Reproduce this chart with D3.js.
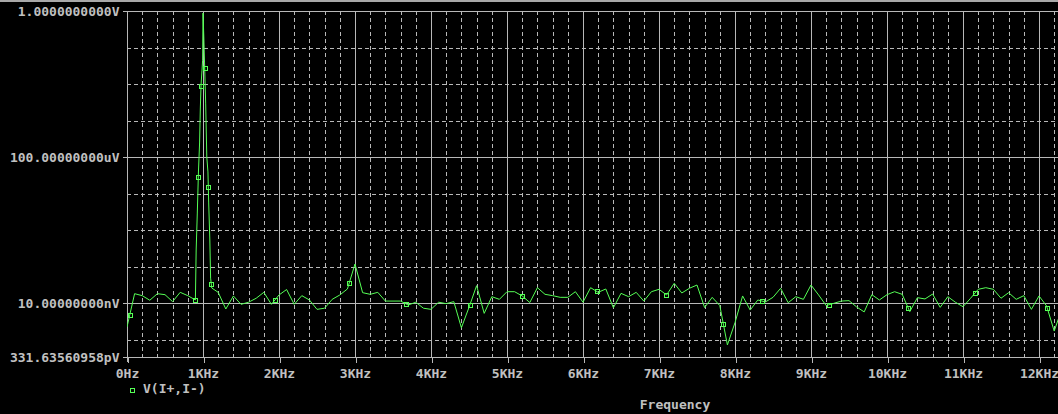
<!DOCTYPE html>
<html>
<head>
<meta charset="utf-8">
<script src="https://cdn.jsdelivr.net/npm/d3@7"></script>
<style>
	html, body { margin: 0; padding: 0; background: #000; overflow: hidden; }
	text { font-family: "DejaVu Sans Mono", "Liberation Mono", monospace; font-weight: bold; font-size: 13px; fill: #c0c0c0; }
</style>
</head>
<body>
<div id="chart"></div>
<script>
//////////////////////////// data /////////////////////////////////////////

// frequency of each FFT sample (KHz)
const freqKHz = [
	0, 0.1, 0.2, 0.3, 0.4, 0.5, 0.6, 0.7, 0.8, 0.9,
	0.91, 0.925, 0.94, 0.955, 0.965, 0.975, 0.987, 0.995, 1.0,
	1.01, 1.02, 1.035, 1.05, 1.065, 1.075, 1.09, 1.1, 1.115,
	1.2, 1.3, 1.4, 1.5, 1.6, 1.7, 1.8, 1.9,
	2.0, 2.1, 2.2, 2.3, 2.4, 2.5, 2.6, 2.7, 2.8, 2.9,
	3.0, 3.1, 3.2, 3.3, 3.4, 3.5, 3.6, 3.7, 3.8, 3.9,
	4.0, 4.1, 4.2, 4.3, 4.4, 4.5, 4.6, 4.7, 4.8, 4.9,
	5.0, 5.1, 5.2, 5.3, 5.4, 5.5, 5.6, 5.7, 5.8, 5.9,
	6.0, 6.1, 6.2, 6.3, 6.4, 6.5, 6.6, 6.7, 6.8, 6.9,
	7.0, 7.1, 7.2, 7.3, 7.4, 7.5, 7.6, 7.7, 7.8, 7.9,
	8.0, 8.1, 8.2, 8.3, 8.4, 8.5, 8.6, 8.7, 8.8, 8.9,
	9.0, 9.1, 9.2, 9.3, 9.4, 9.5, 9.6, 9.7, 9.8, 9.9,
	10.0, 10.1, 10.2, 10.3, 10.4, 10.5, 10.6, 10.7, 10.8, 10.9,
	11.0, 11.1, 11.2, 11.3, 11.4, 11.5, 11.6, 11.7, 11.8, 11.9,
	12.0, 12.1, 12.2, 12.3
];

// magnitude V(I+,I-) in nV
const magNV = [
	2.2, 18.0, 15.9, 11.9, 18.0, 16.9, 10.9, 19.6, 15.9, 12.1,
	283, 2920, 38800, 242000, 2.2e6, 1.0e7, 2.4e7, 4.5e7, 8.8e8,
	2.2e8, 4.0e7, 3.0e6, 1.0e5, 3.9e4, 5500, 532, 48, 25.8,
	19.6, 6.85, 15.6, 9.2, 10.5, 13.5, 19.6, 9.2,
	16.6, 23.4, 9.2, 15.9, 12.1, 6.7, 7.2, 12.6, 16.6, 24.2,
	117, 19.2, 17.3, 19.6, 11.3, 11.3, 11.3, 8.8, 10.5, 7.2,
	6.7, 10.5, 9.6, 10.9, 2.1, 7.6, 29.8, 5.2, 14.9, 12.6,
	20.4, 20.4, 15.6, 10.3, 26.3, 17.3, 15.9, 14.3, 14.3, 20.4,
	10.5, 26.3, 19.6, 24.2, 7.4, 18.4, 14.9, 19.6, 11.3, 20.4,
	23.7, 16.6, 34.6, 18.8, 25.3, 31.1, 7.5, 14.3, 8.5, 0.71,
	2.9, 15.6, 6.4, 12.1, 10.7, 14.3, 25.3, 10.2, 14.9, 12.6,
	31.1, 16.6, 8.5, 9.8, 11.3, 11.6, 7.8, 5.7, 16.9, 12.1,
	16.9, 20.4, 17.3, 5.8, 14.0, 12.9, 17.6, 7.6, 14.9, 10.5,
	7.9, 13.5, 23.7, 26.3, 23.7, 13.5, 19.2, 12.6, 15.9, 6.7,
	15.6, 8.3, 1.7, 6.85
];

// where the trace symbols sit (KHz)
const markerKHz = [
	0.036, 0.899, 0.938, 0.974, 1.022, 1.07, 1.109, 1.951, 2.925, 3.667,
	4.513, 5.193, 6.18, 7.096, 7.846, 8.359, 9.241, 10.28, 11.162, 12.109
];

const xTicks = [0, 1, 2, 3, 4, 5, 6, 7, 8, 9, 10, 11, 12];
const xLabels = ["0Hz", "1KHz", "2KHz", "3KHz", "4KHz", "5KHz", "6KHz",
	"7KHz", "8KHz", "9KHz", "10KHz", "11KHz", "12KHz"];
const xMinor = [];
xTicks.forEach((t) => [0.2, 0.4, 0.6, 0.8].forEach((m) => xMinor.push(t + m)));

const yTicks = [331.63560958e-12, 10e-9, 100e-6, 1];
const yLabels = ["331.63560958pV", "10.00000000nV", "100.00000000uV", "1.0000000000V"];
const yMinor = [1e-9, 100e-9, 1e-6, 10e-6, 1e-3, 10e-3, 100e-3];

const seriesName = "V(I+,I-)";
const axisTitle = "Frequency";

//////////////////////////// set up svg ///////////////////////////////////

const width = 1058;
const height = 414;
const margin = { top: 11, left: 127, bottom: 57 };
const plotBottom = height - margin.bottom;

const svg = d3.select("#chart").append("svg")
	.attr("width", width)
	.attr("height", height);

svg.append("rect").attr("width", width).attr("height", height).attr("fill", "#000");
svg.append("rect").attr("width", width).attr("height", 2).attr("fill", "#a8a8a8");

const gridColor = "#b8b8b8";
const traceColor = "#55ff55";

//////////////////////////// scales ///////////////////////////////////////

const xScale = d3.scaleLinear().domain([0, 12.25]).range([margin.left, width]);
const yScale = d3.scaleLog().domain([yTicks[0], 1]).range([plotBottom, margin.top]);

//////////////////////////// grid /////////////////////////////////////////

const grid = svg.append("g").attr("shape-rendering", "crispEdges");

grid.selectAll(".vminor").data(xMinor.filter((d) => xScale(d) <= width))
	.join("line")
	.attr("x1", (d) => Math.round(xScale(d)) + 0.5).attr("x2", (d) => Math.round(xScale(d)) + 0.5)
	.attr("y1", margin.top).attr("y2", plotBottom)
	.attr("stroke", gridColor).attr("stroke-dasharray", "4,3");

grid.selectAll(".hminor").data(yMinor)
	.join("line")
	.attr("x1", margin.left).attr("x2", width)
	.attr("y1", (d) => Math.round(yScale(d)) + 0.5).attr("y2", (d) => Math.round(yScale(d)) + 0.5)
	.attr("stroke", gridColor).attr("stroke-dasharray", "4,3");

grid.selectAll(".vmajor").data(xTicks)
	.join("line")
	.attr("x1", (d) => Math.round(xScale(d)) + 0.5).attr("x2", (d) => Math.round(xScale(d)) + 0.5)
	.attr("y1", margin.top).attr("y2", plotBottom)
	.attr("stroke", gridColor);

grid.selectAll(".hmajor").data(yTicks)
	.join("line")
	.attr("x1", margin.left).attr("x2", width)
	.attr("y1", (d) => Math.round(yScale(d)) + 0.5).attr("y2", (d) => Math.round(yScale(d)) + 0.5)
	.attr("stroke", gridColor);

//////////////////////////// axes /////////////////////////////////////////

const xAxis = svg.append("g")
	.attr("transform", `translate(0,${Math.round(plotBottom) + 0.5})`)
	.call(d3.axisBottom(xScale).tickValues(xTicks).tickSize(5).tickPadding(6)
		.tickFormat((d, i) => xLabels[i]));

const yAxis = svg.append("g")
	.attr("transform", `translate(${margin.left + 0.5},0)`)
	.call(d3.axisLeft(yScale).tickValues(yTicks).tickSize(5).tickPadding(3)
		.tickFormat((d, i) => yLabels[i]));

[xAxis, yAxis].forEach((ax) => {
	ax.select(".domain").remove();
	ax.selectAll(".tick line").attr("stroke", gridColor).attr("shape-rendering", "crispEdges");
	ax.selectAll(".tick text").attr("fill", "#c0c0c0").attr("font-family", null).attr("font-size", null);
});
xAxis.selectAll(".tick line").attr("transform", (d) => `translate(${Math.round(xScale(d)) + 0.5 - xScale(d)},0)`);

svg.append("line")
	.attr("x1", margin.left + 0.5).attr("x2", margin.left + 0.5)
	.attr("y1", margin.top).attr("y2", plotBottom + 5)
	.attr("stroke", gridColor).attr("shape-rendering", "crispEdges");

//////////////////////////// trace ////////////////////////////////////////

svg.append("clipPath").attr("id", "plotClip")
	.append("rect")
	.attr("x", margin.left).attr("y", margin.top - 2)
	.attr("width", width - margin.left).attr("height", plotBottom - margin.top + 2);

const points = freqKHz.map((f, i) => ({ f, v: magNV[i] * 1e-9 }));

const line = d3.line()
	.x((d) => xScale(d.f))
	.y((d) => yScale(d.v));

const plot = svg.append("g").attr("clip-path", "url(#plotClip)");

plot.append("path")
	.datum(points)
	.attr("d", line)
	.attr("fill", "none")
	.attr("stroke", traceColor)
	.attr("stroke-width", 1);

// place symbols on the drawn trace
const markerPos = (f) => {
	const i = Math.max(0, d3.bisectRight(freqKHz, f) - 1);
	const a = points[i];
	const b = points[Math.min(i + 1, points.length - 1)];
	const t = b.f === a.f ? 0 : (f - a.f) / (b.f - a.f);
	const ya = yScale(a.v);
	const yb = yScale(b.v);
	return [xScale(f), ya + (yb - ya) * t];
};

plot.selectAll(".marker").data(markerKHz)
	.join("rect")
	.attr("x", (d) => Math.round(markerPos(d)[0]) - 2)
	.attr("y", (d) => Math.round(markerPos(d)[1]) - 2)
	.attr("width", 4).attr("height", 4)
	.attr("fill", "none")
	.attr("stroke", traceColor)
	.attr("shape-rendering", "crispEdges");

//////////////////////////// legend ///////////////////////////////////////

svg.append("rect")
	.attr("x", 130.5).attr("y", 388.5).attr("width", 4).attr("height", 4)
	.attr("fill", "none").attr("stroke", traceColor).attr("shape-rendering", "crispEdges");

svg.append("text").attr("x", 143).attr("y", 393).text(seriesName);

svg.append("text")
	.attr("x", 675).attr("y", 409)
	.attr("text-anchor", "middle")
	.text(axisTitle);
</script>
</body>
</html>
